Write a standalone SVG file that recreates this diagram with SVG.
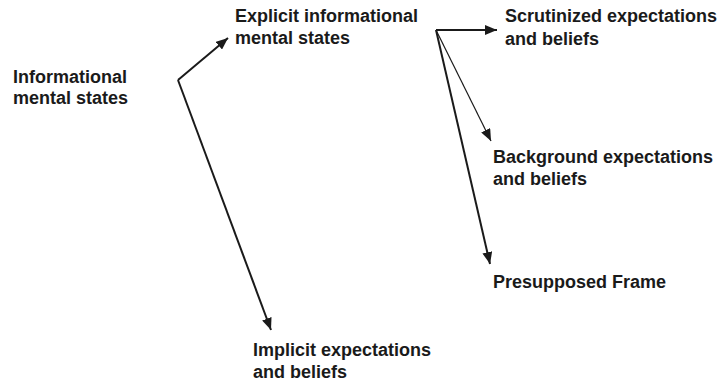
<svg xmlns="http://www.w3.org/2000/svg" width="724" height="383" viewBox="0 0 724 383">
<style>
text{font-family:"Liberation Sans",Arial,sans-serif;font-weight:bold;font-size:18px;fill:#1a1a1a}
.c{stroke:#1a1a1a;stroke-width:2;fill:none}
.t{stroke-width:1.2}
</style>
<defs>
<marker id="ah" viewBox="0 0 12 10" refX="12" refY="5" markerWidth="12" markerHeight="10" markerUnits="userSpaceOnUse" orient="auto">
<path d="M0,0 L12,5 L0,10 Z" fill="#1a1a1a"/>
</marker>
</defs>
<rect width="724" height="383" fill="#fff"/>
<g id="connectors">
<path class="c" d="M178,80 L228,38" marker-end="url(#ah)"/>
<path class="c" d="M178,80 L271,330" marker-end="url(#ah)"/>
<path class="c" d="M436,30 L497,30" marker-end="url(#ah)"/>
<path class="c t" d="M436,30 L491,141" marker-end="url(#ah)"/>
<path class="c" d="M436,30 L490,264" marker-end="url(#ah)"/>
</g>
<g id="informational"><text x="13" y="83">Informational</text><text x="13" y="104">mental states</text></g>
<g id="explicit"><text x="235" y="22">Explicit informational</text><text x="235" y="44">mental states</text></g>
<g id="scrutinized"><text x="505" y="22">Scrutinized expectations</text><text x="505" y="45">and beliefs</text></g>
<g id="background"><text x="493" y="163">Background expectations</text><text x="493" y="185">and beliefs</text></g>
<g id="presupposed"><text x="493" y="288">Presupposed Frame</text></g>
<g id="implicit"><text x="253" y="356">Implicit expectations</text><text x="253" y="378">and beliefs</text></g>
</svg>
